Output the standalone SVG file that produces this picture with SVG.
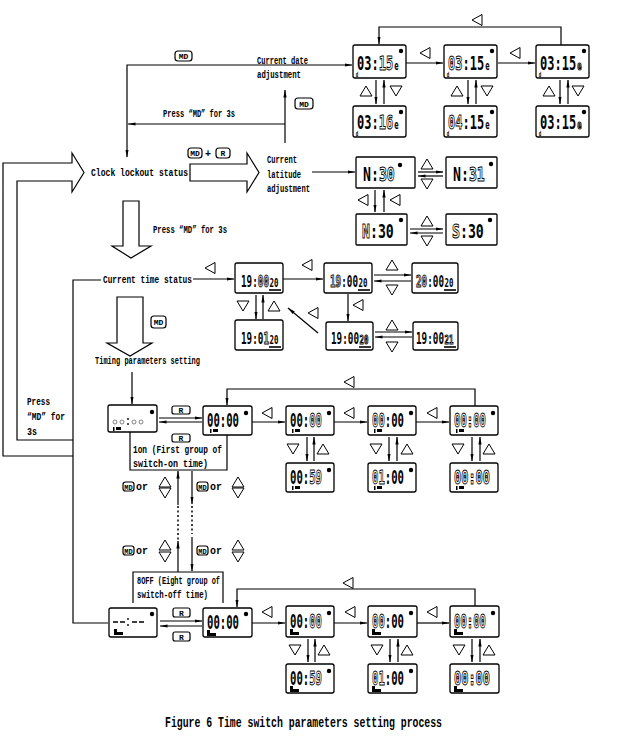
<svg xmlns="http://www.w3.org/2000/svg" width="640" height="736" viewBox="0 0 640 736">
<defs>
<style>
.ln{fill:none;stroke:#000;stroke-width:1.2}
.bx{fill:#fff;stroke:#000;stroke-width:1.3}
.bt{fill:#fff;stroke:#000;stroke-width:1.2}
.lb{font-family:"Liberation Mono","DejaVu Sans Mono",monospace;font-weight:bold;font-size:10px;fill:#000}
.lcd{font-family:"DejaVu Sans Mono",monospace;font-weight:bold;font-size:20px;fill:#000;opacity:0.99}
.lct{font-family:"DejaVu Sans Mono",monospace;font-weight:bold;font-size:19px;fill:#000;opacity:0.99}
.lcs{font-family:"DejaVu Sans Mono",monospace;font-weight:bold;font-size:15px;fill:#000;opacity:0.99}
.bl{fill:#fff;stroke:#000;stroke-width:1}
.e{font-size:12px}
.dd{font-size:7px}
.s20{font-size:12px}
.btn{font-family:"Liberation Mono",monospace;font-weight:bold;font-size:8px;text-anchor:middle;fill:#000}
.tri{fill:#fff;stroke:#000;stroke-width:1}
.dt{stroke-dasharray:2 2.5;stroke-width:1.5}
.cap{font-family:"Liberation Mono","DejaVu Sans Mono",monospace;font-weight:bold;font-size:14px;fill:#000}
</style>
<marker id="a" viewBox="0 0 8 4" refX="7.5" refY="2" markerWidth="8" markerHeight="4" orient="auto" markerUnits="userSpaceOnUse"><path d="M0,0.4L8,2L0,3.6z" fill="#000"/></marker>
<polygon id="tl" class="tri" points="5,-5.5 -5,0 5,5.5"/>
<polygon id="tu" class="tri" points="-6,5 0,-5 6,5"/>
<polygon id="td" class="tri" points="-6,-5 6,-5 0,5"/>
<g id="ic1"><rect x="0" y="0" width="1.5" height="4"/><rect x="3" y="0" width="5" height="3"/></g>
<g id="ic8"><rect x="0" y="0" width="3" height="6"/><rect x="3" y="3" width="6" height="3"/></g>
</defs>
<rect width="640" height="736" fill="#fff"/>

<g id="connectors" class="ln">
<path d="M561,45V27H379V44" marker-end="url(#a)"/>
<path d="M406,63H443" marker-end="url(#a)"/>
<path d="M498,63H535" marker-end="url(#a)"/>
<path d="M376,80V104" marker-end="url(#a)"/>
<path d="M384,104V80" marker-end="url(#a)"/>
<path d="M468,80V104" marker-end="url(#a)"/>
<path d="M476,104V80" marker-end="url(#a)"/>
<path d="M560,80V104" marker-end="url(#a)"/>
<path d="M568,104V80" marker-end="url(#a)"/>
<path d="M257,65H127V157" marker-end="url(#a)"/>
<path d="M257,65H352" marker-end="url(#a)"/>
<path d="M285,143V90" marker-end="url(#a)"/>
<path d="M285,124H128" marker-end="url(#a)"/>
<path d="M312,172H355" marker-end="url(#a)"/>
<path d="M418,172H443" marker-end="url(#a)"/>
<path d="M443,176H418" marker-end="url(#a)"/>
<path d="M375,190V212" marker-end="url(#a)"/>
<path d="M384,212V190" marker-end="url(#a)"/>
<path d="M410,229H443" marker-end="url(#a)"/>
<path d="M443,233H410" marker-end="url(#a)"/>
<path d="M73,456H3V163H72V153L84,172.5L72,192V181H17V440H73"/>
<path d="M101,280H73V623H108"/>
<path d="M190,164H247V153L259,172.5L247,192V181H190Z"/>
<path d="M123,201H139V246H151L131,258L112,246H123Z"/>
<path d="M193,279H234" marker-end="url(#a)"/>
<path d="M283,279H323" marker-end="url(#a)"/>
<path d="M374,275H411" marker-end="url(#a)"/>
<path d="M411,281H374" marker-end="url(#a)"/>
<path d="M256,295V319" marker-end="url(#a)"/>
<path d="M263,319V295" marker-end="url(#a)"/>
<path d="M348,294V321" marker-end="url(#a)"/>
<path d="M318,333L288,308" marker-end="url(#a)"/>
<path d="M375,332H412" marker-end="url(#a)"/>
<path d="M412,337H375" marker-end="url(#a)"/>
<path d="M117,297H143V343H152L130,356L107,343H117Z"/>
<path d="M132,372V404" marker-end="url(#a)"/>
<path d="M159,418H202" marker-end="url(#a)"/>
<path d="M202,422H159" marker-end="url(#a)"/>
<path d="M475,406V389H227V405" marker-end="url(#a)"/>
<path d="M252,422H285" marker-end="url(#a)"/>
<path d="M334,422H367" marker-end="url(#a)"/>
<path d="M416,422H449" marker-end="url(#a)"/>
<path d="M307,437V461" marker-end="url(#a)"/>
<path d="M314,461V437" marker-end="url(#a)"/>
<path d="M389,437V461" marker-end="url(#a)"/>
<path d="M397,461V437" marker-end="url(#a)"/>
<path d="M472,437V461" marker-end="url(#a)"/>
<path d="M480,461V437" marker-end="url(#a)"/>
<path d="M130,432V470H227V435"/>
<path d="M178,505V471" marker-end="url(#a)"/>
<path d="M178,506V540" class="ln dt"/>
<path d="M178,572V541" marker-end="url(#a)"/>
<path d="M192,471V504" marker-end="url(#a)"/>
<path d="M192,506V534" class="ln dt"/>
<path d="M192,537V571" marker-end="url(#a)"/>
<path d="M133,603V572H223V603"/>
<path d="M160,621H202" marker-end="url(#a)"/>
<path d="M202,626H160" marker-end="url(#a)"/>
<path d="M475,606V589H237V607" marker-end="url(#a)"/>
<path d="M252,623H285" marker-end="url(#a)"/>
<path d="M334,623H367" marker-end="url(#a)"/>
<path d="M417,623H449" marker-end="url(#a)"/>
<path d="M308,639V662" marker-end="url(#a)"/>
<path d="M315,662V639" marker-end="url(#a)"/>
<path d="M390,639V662" marker-end="url(#a)"/>
<path d="M398,662V639" marker-end="url(#a)"/>
<path d="M472,639V662" marker-end="url(#a)"/>
<path d="M480,662V639" marker-end="url(#a)"/>
</g>

<g id="keys">
<use href="#tl" x="477" y="20"/>
<use href="#tl" x="425" y="53"/>
<use href="#tl" x="515" y="53"/>
<use href="#tu" x="366" y="91"/><use href="#td" x="396" y="91"/>
<use href="#tu" x="457" y="91"/><use href="#td" x="487" y="91"/>
<use href="#tu" x="549" y="91"/><use href="#td" x="578" y="91"/>
<use href="#tu" x="427" y="164"/><use href="#td" x="427" y="184"/>
<use href="#tl" x="363" y="200"/><use href="#tl" x="395" y="200"/>
<use href="#tu" x="427" y="221"/><use href="#td" x="427" y="241"/>
<use href="#tl" x="210" y="268"/>
<use href="#tl" x="307" y="265"/>
<use href="#tu" x="392" y="265"/><use href="#td" x="392" y="290"/>
<use href="#td" x="243" y="306"/><use href="#tu" x="274" y="306"/>
<use href="#tl" x="358" y="305"/>
<use href="#tl" x="313" y="313"/>
<use href="#tu" x="392" y="325"/><use href="#td" x="392" y="347"/>
<use href="#tl" x="349" y="382"/>
<use href="#tl" x="267" y="413"/><use href="#tl" x="349" y="413"/><use href="#tl" x="432" y="413"/>
<use href="#td" x="293" y="449"/><use href="#tu" x="323" y="449"/>
<use href="#td" x="376" y="449"/><use href="#tu" x="407" y="449"/>
<use href="#td" x="458" y="449"/><use href="#tu" x="489" y="449"/>
<use href="#tu" x="165" y="482"/><use href="#td" x="165" y="493"/>
<use href="#tu" x="238" y="482"/><use href="#td" x="238" y="493"/>
<use href="#tu" x="165" y="545"/><use href="#td" x="165" y="557"/>
<use href="#tu" x="238" y="545"/><use href="#td" x="238" y="557"/>
<use href="#tl" x="348" y="583"/>
<use href="#tl" x="267" y="612"/><use href="#tl" x="350" y="612"/><use href="#tl" x="432" y="612"/>
<use href="#td" x="295" y="650"/><use href="#tu" x="324" y="650"/>
<use href="#td" x="377" y="650"/><use href="#tu" x="407" y="650"/>
<use href="#td" x="459" y="650"/><use href="#tu" x="489" y="650"/>
</g>

<g id="buttons">
<rect class="bt" x="175" y="51" width="17" height="10" rx="3"/><text class="btn" x="183.5" y="59">MD</text>
<rect class="bt" x="295" y="98" width="18" height="11" rx="3"/><text class="btn" x="304" y="107">MD</text>
<rect class="bt" x="188" y="148" width="14" height="10" rx="3"/><text class="btn" x="195" y="156">MD</text>
<text class="lb" x="205" y="157">+</text>
<rect class="bt" x="216" y="148" width="14" height="10" rx="3"/><text class="btn" x="223" y="156">R</text>
<rect class="bt" x="151" y="316" width="15" height="12" rx="3"/><text class="btn" x="158.5" y="325">MD</text>
<rect class="bt" x="172" y="406" width="18" height="8" rx="2"/><text class="btn" x="181" y="413">R</text>
<rect class="bt" x="172" y="434" width="18" height="8" rx="2"/><text class="btn" x="181" y="441">R</text>
<rect class="bt" x="123" y="482" width="11" height="9" rx="2.5"/><text class="btn" x="128.5" y="489.5" style="font-size:7px">MD</text><text class="lb" x="136" y="490">or</text>
<rect class="bt" x="197" y="482" width="11" height="9" rx="2.5"/><text class="btn" x="202.5" y="489.5" style="font-size:7px">MD</text><text class="lb" x="210" y="490">or</text>
<rect class="bt" x="123" y="546" width="11" height="9" rx="2.5"/><text class="btn" x="128.5" y="553.5" style="font-size:7px">MD</text><text class="lb" x="136" y="554">or</text>
<rect class="bt" x="197" y="546" width="11" height="9" rx="2.5"/><text class="btn" x="202.5" y="553.5" style="font-size:7px">MD</text><text class="lb" x="210" y="554">or</text>
<rect class="bt" x="173" y="608" width="17" height="9" rx="2"/><text class="btn" x="181.5" y="615.5">R</text>
<rect class="bt" x="173" y="632" width="17" height="9" rx="2"/><text class="btn" x="181.5" y="639.5">R</text>
</g>

<g id="labels">
<text class="lb" x="257" y="64" textLength="51" lengthAdjust="spacingAndGlyphs">Current date</text>
<text class="lb" x="257" y="78" textLength="44" lengthAdjust="spacingAndGlyphs">adjustment</text>
<text class="lb" x="163" y="117" textLength="72" lengthAdjust="spacingAndGlyphs">Press “MD” for 3s</text>
<text class="lb" x="91" y="176" textLength="97" lengthAdjust="spacingAndGlyphs">Clock lockout status</text>
<text class="lb" x="267" y="163" textLength="30" lengthAdjust="spacingAndGlyphs">Current</text>
<text class="lb" x="267" y="178" textLength="34" lengthAdjust="spacingAndGlyphs">latitude</text>
<text class="lb" x="267" y="192" textLength="43" lengthAdjust="spacingAndGlyphs">adjustment</text>
<text class="lb" x="153" y="233" textLength="74" lengthAdjust="spacingAndGlyphs">Press “MD” for 3s</text>
<text class="lb" x="103" y="283" textLength="89" lengthAdjust="spacingAndGlyphs">Current time status</text>
<text class="lb" x="95" y="364" textLength="105" lengthAdjust="spacingAndGlyphs">Timing parameters setting</text>
<text class="lb" x="27" y="405" textLength="23" lengthAdjust="spacingAndGlyphs">Press</text>
<text class="lb" x="27" y="420" textLength="38" lengthAdjust="spacingAndGlyphs">“MD” for</text>
<text class="lb" x="27" y="435" textLength="10" lengthAdjust="spacingAndGlyphs">3s</text>
<text class="lb" x="133" y="453" textLength="89" lengthAdjust="spacingAndGlyphs">1on (First group of</text>
<text class="lb" x="133" y="467" textLength="75" lengthAdjust="spacingAndGlyphs">switch-on time)</text>
<text class="lb" x="137" y="584" textLength="83" lengthAdjust="spacingAndGlyphs">8OFF (Eight group of</text>
<text class="lb" x="137" y="598" textLength="71" lengthAdjust="spacingAndGlyphs">switch-off time)</text>
<text class="cap" x="165" y="727" textLength="277" lengthAdjust="spacingAndGlyphs">Figure 6 Time switch parameters setting process</text>
</g>

<!-- date displays -->
<g id="d1"><rect class="bx" x="353" y="45" width="53" height="33" rx="2"/><text class="lcd" transform="translate(357,70) scale(0.6,1)">03:<tspan class="bl">15</tspan><tspan class="e" dx="2">e</tspan><tspan class="dd" x="-2" y="7">d</tspan></text><circle cx="401" cy="51" r="2.2"/></g>
<g id="d2"><rect class="bx" x="444" y="45" width="53" height="33" rx="2"/><text class="lcd" transform="translate(448,70) scale(0.6,1)"><tspan class="bl">03</tspan>:15<tspan class="e" dx="2">e</tspan><tspan class="dd" x="-2" y="7">d</tspan></text><circle cx="492" cy="51" r="2.2"/></g>
<g id="d3"><rect class="bx" x="536" y="45" width="53" height="33" rx="2"/><text class="lcd" transform="translate(540,70) scale(0.6,1)">03:15<tspan class="e bl" dx="2">e</tspan><tspan class="dd" x="-2" y="7">d</tspan></text><circle cx="584" cy="51" r="2.2"/></g>
<g id="d4"><rect class="bx" x="353" y="106" width="53" height="31" rx="2"/><text class="lcd" transform="translate(357,129) scale(0.6,1)">03:<tspan class="bl">16</tspan><tspan class="e" dx="2">e</tspan><tspan class="dd" x="-2" y="7">d</tspan></text><circle cx="401" cy="112" r="2.2"/></g>
<g id="d5"><rect class="bx" x="444" y="106" width="53" height="31" rx="2"/><text class="lcd" transform="translate(448,129) scale(0.6,1)"><tspan class="bl">04</tspan>:15<tspan class="e" dx="2">e</tspan><tspan class="dd" x="-2" y="7">d</tspan></text><circle cx="492" cy="112" r="2.2"/></g>
<g id="d6"><rect class="bx" x="536" y="106" width="53" height="31" rx="2"/><text class="lcd" transform="translate(540,129) scale(0.6,1)">03:15<tspan class="e bl" dx="2">e</tspan><tspan class="dd" x="-2" y="7">d</tspan></text><circle cx="584" cy="112" r="2.2"/></g>

<!-- latitude displays -->
<g id="la"><rect class="bx" x="356" y="157" width="59" height="31" rx="1"/><text class="lcd" transform="translate(363,181) scale(0.66,1)">N:<tspan class="bl">30</tspan></text><circle cx="400" cy="165" r="2.2"/></g>
<g id="lb"><rect class="bx" x="446" y="157" width="51" height="31" rx="1"/><text class="lcd" transform="translate(453,181) scale(0.66,1)">N:<tspan class="bl">31</tspan></text><circle cx="491" cy="164" r="2.2"/></g>
<g id="lc"><rect class="bx" x="356" y="214" width="51" height="31" rx="1"/><text class="lcd" transform="translate(362,238) scale(0.66,1)"><tspan class="bl">N</tspan>:30</text><circle cx="401" cy="220" r="2.2"/></g>
<g id="ld"><rect class="bx" x="446" y="214" width="51" height="31" rx="1"/><text class="lcd" transform="translate(452,238) scale(0.66,1)"><tspan class="bl">S</tspan>:30</text><circle cx="490" cy="220" r="2.2"/></g>

<!-- current time displays -->
<g id="t1"><rect class="bx" x="235" y="263" width="48" height="30" rx="2"/><text class="lcs" transform="translate(241,287) scale(0.62,1)">19:<tspan class="bl">00</tspan><tspan class="s20" dx="1">20</tspan></text><rect x="269" y="289" width="12" height="2" fill="#333"/></g>
<g id="t2"><rect class="bx" x="324" y="263" width="48" height="30" rx="2"/><text class="lcs" transform="translate(330,287) scale(0.62,1)"><tspan class="bl">19</tspan>:00<tspan class="s20" dx="1">20</tspan></text><rect x="358" y="289" width="12" height="2" fill="#333"/></g>
<g id="t3"><rect class="bx" x="412" y="263" width="46" height="30" rx="2"/><text class="lcs" transform="translate(416,287) scale(0.62,1)"><tspan class="bl">20</tspan>:00<tspan class="s20" dx="1">20</tspan></text><rect x="444" y="289" width="12" height="2" fill="#333"/></g>
<g id="t4"><rect class="bx" x="235" y="320" width="48" height="30" rx="2"/><text class="lcs" transform="translate(241,344) scale(0.62,1)">19:0<tspan class="bl">1</tspan><tspan class="s20" dx="1">20</tspan></text><rect x="269" y="346" width="12" height="2" fill="#333"/></g>
<g id="t5"><rect class="bx" x="326" y="322" width="47" height="28" rx="2"/><text class="lcs" transform="translate(331,344) scale(0.62,1)">19:00<tspan class="s20 bl" dx="1">20</tspan></text><rect x="359" y="346" width="12" height="2" fill="#333"/></g>
<g id="t6"><rect class="bx" x="413" y="322" width="45" height="28" rx="2"/><text class="lcs" transform="translate(416,344) scale(0.62,1)">19:00<tspan class="s20 bl" dx="1">21</tspan></text><rect x="444" y="346" width="12" height="2" fill="#333"/></g>

<!-- timing 1on displays -->
<g id="p1"><rect class="bx" x="108" y="405" width="49" height="27" rx="2"/><g fill="none" stroke="#666" stroke-width="0.8"><circle cx="115" cy="422" r="2"/><circle cx="122" cy="422" r="2"/><circle cx="134" cy="422" r="2"/><circle cx="141" cy="422" r="2"/></g><circle cx="128" cy="419" r="0.9"/><circle cx="128" cy="424" r="0.9"/><circle cx="152" cy="412" r="2.2"/><use href="#ic1" x="113" y="427"/></g>
<g id="p2"><rect class="bx" x="203" y="406" width="49" height="29" rx="2"/><text class="lct" transform="translate(207,427) scale(0.56,1)">00:00</text><circle cx="246" cy="413" r="2.2"/><use href="#ic1" x="210" y="429"/></g>
<g id="p3"><rect class="bx" x="286" y="406" width="48" height="29" rx="2"/><text class="lct" transform="translate(290,427) scale(0.56,1)">00:<tspan class="bl">00</tspan></text><circle cx="329" cy="413" r="2.2"/><use href="#ic1" x="292" y="429"/></g>
<g id="p4"><rect class="bx" x="368" y="406" width="48" height="29" rx="2"/><text class="lct" transform="translate(372,427) scale(0.56,1)"><tspan class="bl">00</tspan>:00</text><circle cx="411" cy="413" r="2.2"/><use href="#ic1" x="374" y="429"/></g>
<g id="p5"><rect class="bx" x="450" y="406" width="48" height="29" rx="2"/><text class="lct bl" transform="translate(454,427) scale(0.56,1)">00:00</text><circle cx="493" cy="413" r="2.2"/><use href="#ic1" x="456" y="429"/></g>
<g id="p6"><rect class="bx" x="286" y="463" width="48" height="29" rx="2"/><text class="lct" transform="translate(290,484) scale(0.56,1)">00:<tspan class="bl">59</tspan></text><circle cx="329" cy="470" r="2.2"/><use href="#ic1" x="292" y="486"/></g>
<g id="p7"><rect class="bx" x="368" y="463" width="48" height="29" rx="2"/><text class="lct" transform="translate(372,484) scale(0.56,1)"><tspan class="bl">01</tspan>:00</text><circle cx="411" cy="470" r="2.2"/><use href="#ic1" x="374" y="486"/></g>
<g id="p8"><rect class="bx" x="450" y="463" width="48" height="29" rx="2"/><text class="lct bl" transform="translate(454,484) scale(0.63,1)">00:00</text><use href="#ic1" x="456" y="486"/></g>

<!-- timing 8off displays -->
<g id="q1"><rect class="bx" x="109" y="608" width="48" height="29" rx="2"/><path d="M113,622H118M120,622H125M132,622H137M139,622H144" stroke="#000" stroke-width="1.3"/><circle cx="128" cy="619" r="0.9"/><circle cx="128" cy="625" r="0.9"/><circle cx="152" cy="614" r="2.2"/><use href="#ic8" x="114" y="629"/></g>
<g id="q2"><rect class="bx" x="203" y="608" width="49" height="29" rx="2"/><text class="lct" transform="translate(207,629) scale(0.56,1)">00:00</text><circle cx="246" cy="614" r="2.2"/><use href="#ic8" x="207" y="630"/></g>
<g id="q3"><rect class="bx" x="286" y="606" width="48" height="31" rx="2"/><text class="lct" transform="translate(290,628) scale(0.56,1)">00:<tspan class="bl">00</tspan></text><circle cx="329" cy="613" r="2.2"/><use href="#ic8" x="290" y="629"/></g>
<g id="q4"><rect class="bx" x="368" y="606" width="49" height="31" rx="2"/><text class="lct" transform="translate(372,628) scale(0.56,1)"><tspan class="bl">00</tspan>:00</text><circle cx="411" cy="613" r="2.2"/><use href="#ic8" x="372" y="629"/></g>
<g id="q5"><rect class="bx" x="450" y="606" width="49" height="31" rx="2"/><text class="lct bl" transform="translate(454,628) scale(0.56,1)">00:00</text><circle cx="493" cy="613" r="2.2"/><use href="#ic8" x="454" y="629"/></g>
<g id="q6"><rect class="bx" x="286" y="664" width="48" height="29" rx="2"/><text class="lct" transform="translate(290,685) scale(0.56,1)">00:<tspan class="bl">59</tspan></text><circle cx="329" cy="671" r="2.2"/><use href="#ic8" x="290" y="686"/></g>
<g id="q7"><rect class="bx" x="368" y="664" width="49" height="29" rx="2"/><text class="lct" transform="translate(372,685) scale(0.56,1)"><tspan class="bl">01</tspan>:00</text><circle cx="411" cy="671" r="2.2"/><use href="#ic8" x="372" y="686"/></g>
<g id="q8"><rect class="bx" x="450" y="664" width="49" height="29" rx="2"/><text class="lct bl" transform="translate(454,685) scale(0.63,1)">00:00</text><use href="#ic8" x="454" y="686"/></g>
</svg>
